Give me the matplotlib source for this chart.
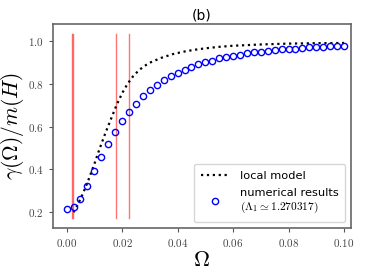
import matplotlib.pyplot as plt
from matplotlib.ticker import FuncFormatter

plt.rcParams['mathtext.fontset'] = 'cm'
plt.rcParams['font.family'] = 'DejaVu Sans'

# numerical results
omega = [0.0, 0.0025, 0.005, 0.0075, 0.01, 0.0125, 0.015, 0.0175, 0.02, 0.0225,
         0.025, 0.0275, 0.03, 0.0325, 0.035, 0.0375, 0.04, 0.0425, 0.045, 0.0475,
         0.05, 0.0525, 0.055, 0.0575, 0.06, 0.0625, 0.065, 0.0675, 0.07, 0.0725,
         0.075, 0.0775, 0.08, 0.0825, 0.085, 0.0875, 0.09, 0.0925, 0.095, 0.0975, 0.1]
gamma_num = [0.216, 0.223, 0.264, 0.324, 0.391, 0.459, 0.520, 0.576, 0.627, 0.669,
             0.706, 0.741, 0.770, 0.794, 0.815, 0.834, 0.851, 0.865, 0.877, 0.890,
             0.899, 0.908, 0.918, 0.924, 0.930, 0.936, 0.941, 0.946, 0.949, 0.953,
             0.957, 0.960, 0.961, 0.964, 0.967, 0.969, 0.971, 0.972, 0.974, 0.975, 0.977]

# local model curve
omega_loc = [0.0025, 0.004, 0.006, 0.008, 0.010, 0.012, 0.014, 0.016, 0.018, 0.020,
             0.022, 0.024, 0.026, 0.028, 0.030, 0.034, 0.038, 0.042, 0.046, 0.050,
             0.055, 0.060, 0.070, 0.080, 0.090, 0.100]
gamma_loc = [0.200, 0.235, 0.290, 0.355, 0.425, 0.500, 0.570, 0.635, 0.700, 0.755,
             0.800, 0.835, 0.862, 0.882, 0.898, 0.920, 0.937, 0.949, 0.958, 0.965,
             0.972, 0.977, 0.983, 0.987, 0.989, 0.990]

# vertical markers
vlines_x = [0.0021, 0.0024, 0.01765, 0.02255]

fig = plt.figure(figsize=(3.65, 2.74), dpi=100)
ax = fig.add_axes([0.1444, 0.169, 0.8172, 0.743])

for xv in vlines_x:
    ax.plot([xv, xv], [0.175, 1.03], color='red', lw=1.0, alpha=0.55)

ax.plot(omega_loc, gamma_loc, ':', color='black', lw=1.6, label='local model')
ax.plot(omega, gamma_num, 'o', mfc='none', mec='blue', mew=1.0, ms=4.5,
        label='numerical results\n$(\\Lambda_1 \\simeq 1.270317)$')

ax.set_xlim(-0.005, 0.1025)
ax.set_ylim(0.128, 1.078)
ax.set_xticks([0.0, 0.02, 0.04, 0.06, 0.08, 0.10])
ax.set_yticks([0.2, 0.4, 0.6, 0.8, 1.0])
ax.xaxis.set_major_formatter(FuncFormatter(lambda v, p: '$%.2f$' % v))
ax.yaxis.set_major_formatter(FuncFormatter(lambda v, p: '$%.1f$' % v))
ax.tick_params(labelsize=8, length=3, color='#555555', labelcolor='#444444')

for s in ax.spines.values():
    s.set_color('#666666')
    s.set_linewidth(1.2)

ax.set_xlabel('$\\Omega$', fontsize=16, labelpad=1)
ax.set_ylabel('$\\gamma(\\Omega)/m(H)$', fontsize=15.5, labelpad=1)
ax.set_title('(b)', fontsize=10, pad=3)

ax.legend(loc='lower right', fontsize=8.2, handlelength=2.4, frameon=True,
          borderpad=0.6, labelspacing=0.6, handletextpad=1.0,
          borderaxespad=0.5)

fig.savefig('out.png', dpi=100)
